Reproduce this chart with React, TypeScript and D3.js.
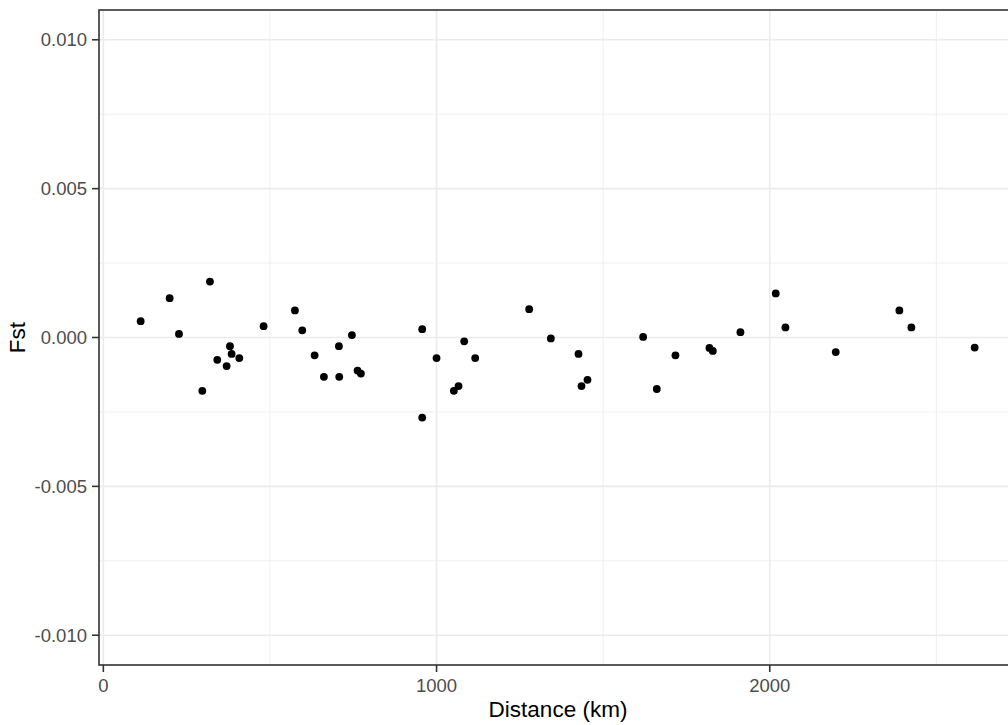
import React from "react";
import * as d3 from "d3";

const distance = [112, 199, 320, 227, 297, 342, 380, 385, 370, 408, 481, 575, 597, 634, 662, 708, 707, 746, 763, 773,
  957, 957, 1000, 1083, 1116, 1052, 1066, 1278, 1343, 1426, 1435, 1453, 1620, 1717, 1661,
  1819, 1829, 1912, 2018, 2047, 2198, 2389, 2425, 2615];
const fst = [0.00055, 0.00132, 0.00188, 0.00012, -0.00179, -0.00075, -0.00029, -0.00055, -0.00096, -0.00069, 0.00038, 0.00091, 0.00024, -0.0006, -0.00132, -0.00132, -0.00029, 0.00008, -0.00111, -0.00121,
  0.00028, -0.00269, -0.00069, -0.00013, -0.00069, -0.00179, -0.00163, 0.00095, -0.00003, -0.00055, -0.00163, -0.00142, 0.00002, -0.0006, -0.00173,
  -0.00035, -0.00045, 0.00018, 0.00148, 0.00034, -0.00049, 0.00091, 0.00034, -0.00034];

const xTicks = [0, 1000, 2000];
const xMinor = [500, 1500, 2500];
const yTicks = [-0.01, -0.005, 0, 0.005, 0.01];
const yMinor = [-0.0075, -0.0025, 0.0025, 0.0075];
const yLabels = ["-0.010", "-0.005", "0.000", "0.005", "0.010"];

export default function App() {
  const W = 1008, H = 725;
  const left = 99, right = 1018, top = 10, bottom = 665;
  const x = d3.scaleLinear().domain([-13, 2745]).range([left, right]);
  const y = d3.scaleLinear().domain([-0.011, 0.011]).range([bottom, top]);
  const font = "Liberation Sans, Arial, sans-serif";
  return (
    <svg width={W} height={H} style={{ position: "absolute", left: 0, top: 0, background: "#fff" }}>
      <rect x={0} y={0} width={W} height={H} fill="#fff" />
      {yMinor.map((v) => (
        <line key={"ym" + v} x1={left} x2={right} y1={y(v)} y2={y(v)} stroke="#ebebeb" strokeWidth={0.8} />
      ))}
      {xMinor.map((v) => (
        <line key={"xm" + v} x1={x(v)} x2={x(v)} y1={top} y2={bottom} stroke="#ebebeb" strokeWidth={0.8} />
      ))}
      {yTicks.map((v) => (
        <line key={"yg" + v} x1={left} x2={right} y1={y(v)} y2={y(v)} stroke="#ebebeb" strokeWidth={1.6} />
      ))}
      {xTicks.map((v) => (
        <line key={"xg" + v} x1={x(v)} x2={x(v)} y1={top} y2={bottom} stroke="#ebebeb" strokeWidth={1.6} />
      ))}
      {distance.map((d, i) => (
        <circle key={i} cx={x(d)} cy={y(fst[i])} r={3.9} fill="#000" />
      ))}
      <rect x={left} y={top} width={right - left} height={bottom - top} fill="none" stroke="#333333" strokeWidth={1.6} />
      {yTicks.map((v, i) => (
        <g key={"yt" + v}>
          <line x1={left - 7} x2={left} y1={y(v)} y2={y(v)} stroke="#333333" strokeWidth={1.6} />
          <text x={left - 12} y={y(v)} dy="0.35em" textAnchor="end" fontSize={18.5} fill="#4d4d4d" fontFamily={font}>
            {yLabels[i]}
          </text>
        </g>
      ))}
      {xTicks.map((v) => (
        <g key={"xt" + v}>
          <line x1={x(v)} x2={x(v)} y1={bottom} y2={bottom + 7} stroke="#333333" strokeWidth={1.6} />
          <text x={x(v)} y={692} textAnchor="middle" fontSize={18.5} fill="#4d4d4d" fontFamily={font}>
            {v}
          </text>
        </g>
      ))}
      <text x={558} y={717} textAnchor="middle" fontSize={22.5} fill="#000" fontFamily={font}>
        Distance (km)
      </text>
      <text transform={`translate(25,${(top + bottom) / 2}) rotate(-90)`} textAnchor="middle" fontSize={22.5} fill="#000" fontFamily={font}>
        Fst
      </text>
    </svg>
  );
}
